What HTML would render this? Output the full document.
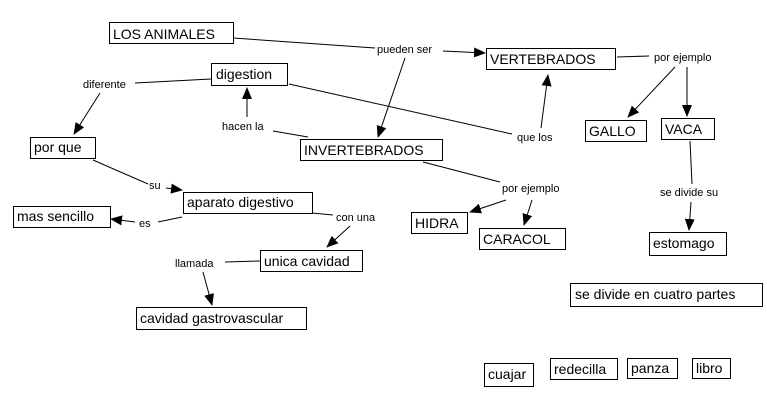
<!DOCTYPE html>
<html><head><meta charset="utf-8"><style>
html,body{margin:0;padding:0;background:#fff;}
svg{display:block;}
.b{fill:#fff;stroke:#000;stroke-width:1;}
.t{font-family:"Liberation Sans",sans-serif;font-size:14px;fill:#000;}
.l{font-family:"Liberation Sans",sans-serif;font-size:11px;fill:#000;}
line{stroke:#000;stroke-width:1;}
</style></head><body>
<svg width="767" height="409" viewBox="0 0 767 409" xmlns="http://www.w3.org/2000/svg">
<defs><marker id="a" markerWidth="12" markerHeight="10" refX="11" refY="5" orient="auto" markerUnits="userSpaceOnUse"><path d="M0,0 L12,5 L0,10 z" fill="#000"/></marker></defs>
<g>
<line x1="233" y1="38" x2="375" y2="48"/>
<line x1="443" y1="51" x2="485" y2="53" marker-end="url(#a)"/>
<line x1="405" y1="58" x2="378" y2="137" marker-end="url(#a)"/>
<line x1="211" y1="79" x2="135" y2="83"/>
<line x1="100" y1="93" x2="74" y2="134" marker-end="url(#a)"/>
<line x1="247" y1="117" x2="247" y2="88" marker-end="url(#a)"/>
<line x1="273" y1="131" x2="308" y2="137"/>
<line x1="289" y1="84" x2="512" y2="134"/>
<line x1="541" y1="128" x2="548" y2="75" marker-end="url(#a)"/>
<line x1="617" y1="57" x2="649" y2="56"/>
<line x1="675" y1="67" x2="628" y2="117" marker-end="url(#a)"/>
<line x1="687" y1="67" x2="687" y2="116" marker-end="url(#a)"/>
<line x1="690" y1="141" x2="692" y2="184"/>
<line x1="691" y1="202" x2="689" y2="230" marker-end="url(#a)"/>
<line x1="423" y1="162" x2="500" y2="182"/>
<line x1="506" y1="200" x2="470" y2="212" marker-end="url(#a)"/>
<line x1="532" y1="200" x2="524" y2="225" marker-end="url(#a)"/>
<line x1="93" y1="160" x2="148" y2="184"/>
<line x1="166" y1="188" x2="182" y2="190" marker-end="url(#a)"/>
<line x1="182" y1="217" x2="158" y2="222"/>
<line x1="135" y1="222" x2="111" y2="219" marker-end="url(#a)"/>
<line x1="312" y1="213" x2="333" y2="215"/>
<line x1="350" y1="226" x2="327" y2="247" marker-end="url(#a)"/>
<line x1="260" y1="261" x2="225" y2="262"/>
<line x1="203" y1="272" x2="212" y2="305" marker-end="url(#a)"/>
</g>
<g>
<rect class="b" x="109.5" y="22.5" width="124" height="21"/><text class="t" x="113" y="39">LOS ANIMALES</text>
<rect class="b" x="211.5" y="63.5" width="76" height="22"/><text class="t" x="216" y="79">digestion</text>
<rect class="b" x="30.5" y="137.5" width="65" height="21"/><text class="t" x="34" y="152">por que</text>
<rect class="b" x="300.5" y="139.5" width="142" height="21"/><text class="t" x="304" y="155">INVERTEBRADOS</text>
<rect class="b" x="486.5" y="48.5" width="129" height="21"/><text class="t" x="490" y="64">VERTEBRADOS</text>
<rect class="b" x="585.5" y="120.5" width="61" height="21"/><text class="t" x="589" y="136">GALLO</text>
<rect class="b" x="661.5" y="118.5" width="53" height="21"/><text class="t" x="665" y="134">VACA</text>
<rect class="b" x="183.5" y="192.5" width="129" height="21"/><text class="t" x="187" y="207">aparato digestivo</text>
<rect class="b" x="13.5" y="206.5" width="97" height="21"/><text class="t" x="17" y="221">mas sencillo</text>
<rect class="b" x="411.5" y="212.5" width="56" height="21"/><text class="t" x="415" y="228">HIDRA</text>
<rect class="b" x="479.5" y="228.5" width="86" height="21"/><text class="t" x="483" y="244">CARACOL</text>
<rect class="b" x="649.5" y="232.5" width="77" height="23"/><text class="t" x="653" y="248">estomago</text>
<rect class="b" x="260.5" y="250.5" width="102" height="21"/><text class="t" x="264" y="266">unica cavidad</text>
<rect class="b" x="136.5" y="307.5" width="170" height="22"/><text class="t" x="140" y="323">cavidad gastrovascular</text>
<rect class="b" x="570.5" y="283.5" width="192" height="23"/><text class="t" x="575" y="299">se divide en cuatro partes</text>
<rect class="b" x="484.5" y="363.5" width="49" height="23"/><text class="t" x="488" y="379">cuajar</text>
<rect class="b" x="550.5" y="358.5" width="67" height="21"/><text class="t" x="554" y="374">redecilla</text>
<rect class="b" x="627.5" y="358.5" width="50" height="20"/><text class="t" x="631" y="373">panza</text>
<rect class="b" x="692.5" y="358.5" width="38" height="20"/><text class="t" x="696" y="373">libro</text>
</g>
<g>
<text class="l" x="377" y="53">pueden ser</text>
<text class="l" x="83" y="88">diferente</text>
<text class="l" x="222" y="130">hacen la</text>
<text class="l" x="517" y="141">que los</text>
<text class="l" x="149" y="189">su</text>
<text class="l" x="139" y="227">es</text>
<text class="l" x="336" y="221">con una</text>
<text class="l" x="175" y="267">llamada</text>
<text class="l" x="654" y="61">por ejemplo</text>
<text class="l" x="502" y="192">por ejemplo</text>
<text class="l" x="660" y="196">se divide su</text>
</g>
</svg>
</body></html>
